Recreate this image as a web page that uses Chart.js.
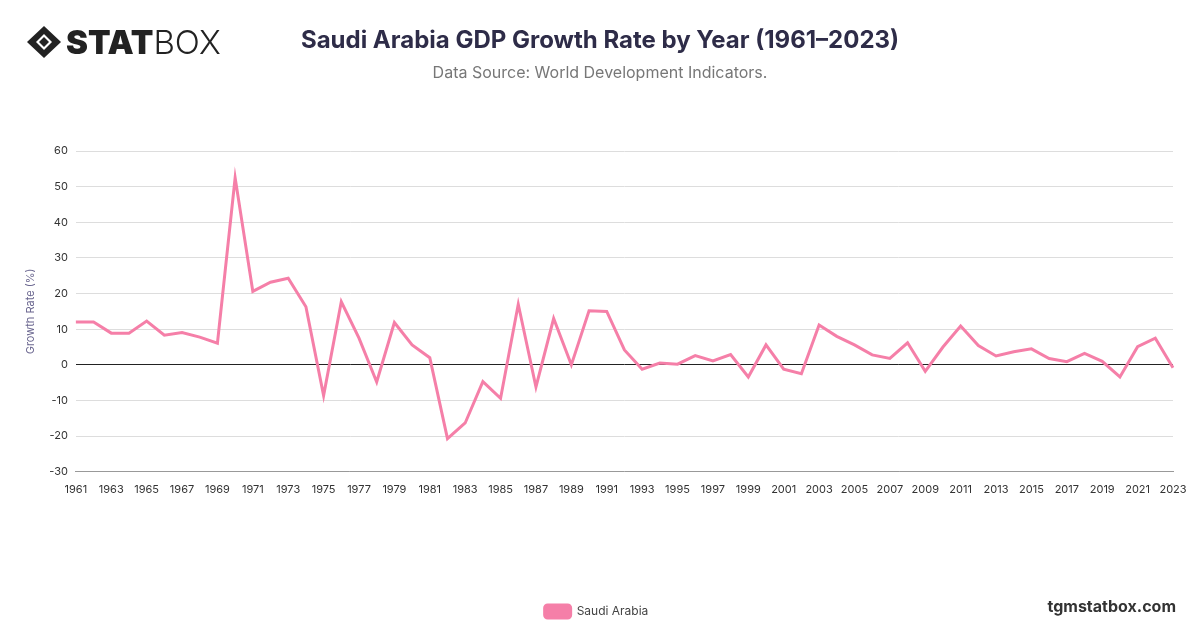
<!DOCTYPE html>
<html>
<head>
<meta charset="utf-8">
<script src="https://cdn.jsdelivr.net/npm/chart.js@4"></script>
<style>
  body { margin: 0; width: 1200px; height: 628px; background: #fff; font-family: "Inter", "Noto Sans", sans-serif; position: relative; overflow: hidden; }
  #wrap { position: absolute; left: 0; top: 0; width: 1200px; height: 628px; }
  .logo { position: absolute; left: 26px; top: 22px; font-size: 33px; color: #222; letter-spacing: 0px; display: flex; align-items: center; }
  .logo b { font-weight: 900; font-family: "Inter", sans-serif; }
  .logo span { font-weight: 300; }
  .title { position: absolute; left: 0; width: 1200px; top: 25px; text-align: center; font-size: 24px; font-weight: 700; color: #2e2c48; }
  .sub { position: absolute; left: 0; width: 1200px; top: 62px; text-align: center; font-size: 16px; color: #777; }
  .site { position: absolute; right: 24px; top: 596px; font-size: 16px; font-weight: 700; color: #333; }
</style>
</head>
<body>
<div id="wrap"><canvas id="c" width="1200" height="628"></canvas></div>
<div class="logo">
  <svg width="36" height="34" viewBox="0 0 36 34"><path d="M18 1 L35 17 L18 33 L1 17 Z" fill="#222"/><path d="M18 9 L26 17 L18 25 L10 17 Z" fill="#fff"/><path d="M18 12 L23 17 L18 22 L13 17 Z" fill="#222"/></svg>
  <b style="margin-left:4px">STAT</b><span>BOX</span>
</div>
<div class="title">Saudi Arabia GDP Growth Rate by Year (1961–2023)</div>
<div class="sub">Data Source: World Development Indicators.</div>
<div class="site">tgmstatbox.com</div>
<script>
const years = [];
for (let y = 1961; y <= 2023; y++) years.push(String(y));

const growth = [
  12.0, 12.0, 8.9, 8.9, 12.3, 8.3, 9.1, 7.8, 6.1, 52.5,
  20.6, 23.2, 24.3, 16.3, -8.6, 17.7, 7.5, -4.8, 11.9, 5.6,
  2.0, -20.7, -16.3, -4.7, -9.4, 17.0, -6.2, 13.0, 0.0, 15.2,
  15.0, 4.2, -1.2, 0.5, 0.2, 2.6, 1.1, 2.9, -3.4, 5.6,
  -1.2, -2.5, 11.2, 8.0, 5.6, 2.8, 1.8, 6.2, -1.8, 5.0,
  10.9, 5.4, 2.5, 3.7, 4.5, 1.8, 0.9, 3.2, 1.0, -3.4,
  5.1, 7.5, -0.8
];

const seriesName = "Saudi Arabia";
const lineColor = "#f57fa8";

new Chart(document.getElementById("c"), {
  type: "line",
  data: {
    labels: years,
    datasets: [{
      label: seriesName,
      data: growth,
      borderColor: lineColor,
      backgroundColor: lineColor,
      borderWidth: 3,
      pointRadius: 0,
      tension: 0
    }]
  },
  options: {
    responsive: false,
    animation: false,
    layout: { padding: { top: 151, left: 20, right: 27, bottom: 0 } },
    plugins: {
      legend: {
        position: "bottom",
        labels: { boxWidth: 26, boxHeight: 13, padding: 8, color: "#444", font: { size: 12, family: "Inter" }, useBorderRadius: true, borderRadius: 3 }
      },
      tooltip: { enabled: false }
    },
    scales: {
      x: {
        grid: { display: false },
        border: { color: "#999" },
        ticks: {
          autoSkip: false, maxRotation: 0, color: "#333", font: { size: 11, family: "Inter" },
          callback: function (v, i) { return i % 2 === 0 ? this.getLabelForValue(v) : ""; }
        },
        afterFit: s => { s.height += 98; }
      },
      y: {
        min: -30, max: 60,
        ticks: { stepSize: 10, color: "#333", font: { size: 11, family: "Inter" }, padding: 8 },
        grid: {
          drawTicks: false,
          color: ctx => ctx.tick.value === 0 ? "#222" : "#ddd"
        },
        border: { display: false },
        title: { display: true, text: "Growth Rate (%)", color: "#6b6790", font: { size: 11, family: "Inter" } }
      }
    }
  }
});
</script>
</body>
</html>
